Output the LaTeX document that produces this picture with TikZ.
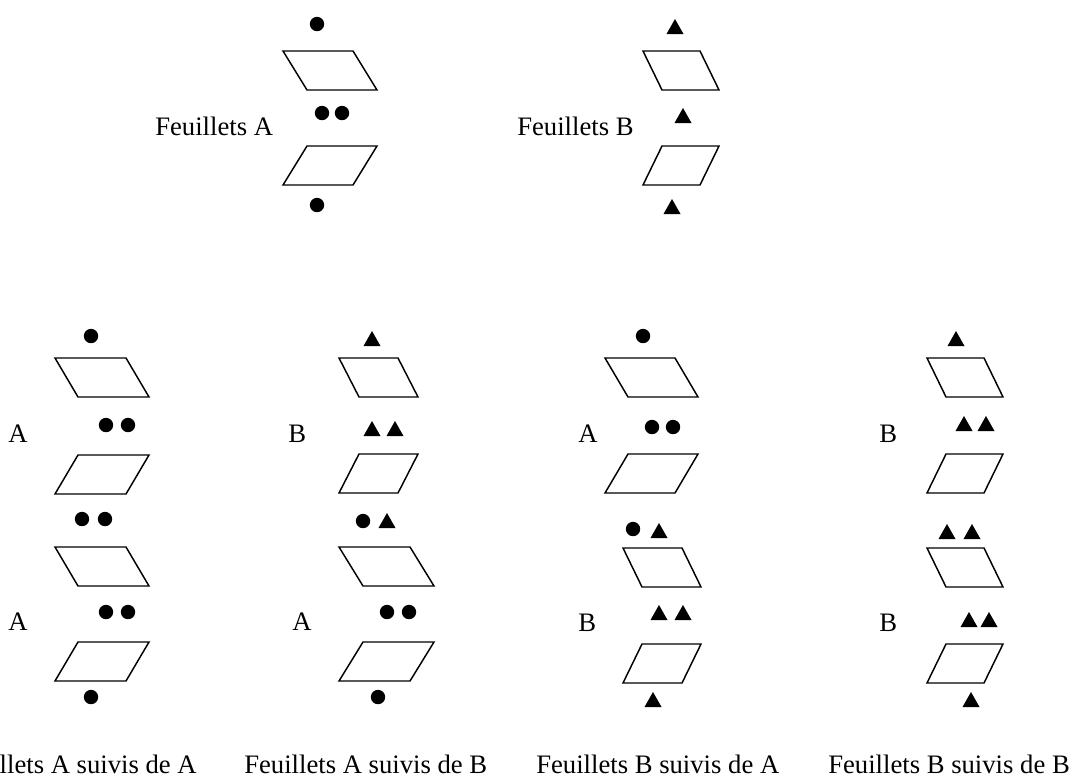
\documentclass[tikz,border=0pt]{standalone}
\usepackage{fontspec}
\setmainfont{Liberation Serif}
\usetikzlibrary{positioning}
\tikzset{
  sheet/.style={draw,line width=1.1pt,line join=miter},
  lbl/.style={inner sep=0pt,anchor=base west,font=\fontsize{20}{24}\selectfont},
  dot/.style={fill=black},
  pics/lsheet/.style 2 args={code={\draw[sheet] (0,0) -- (#1,0) -- (#1+#2,39) -- (#2,39) -- cycle;}},
  pics/rsheet/.style 2 args={code={\draw[sheet] (#2,0) -- (#1+#2,0) -- (#1,39) -- (0,39) -- cycle;}},
  pics/tri/.style={code={\fill (-8.5,0) -- (8.5,0) -- (0,-15) -- cycle;}}
}
\newcommand{\bead}[1]{\fill[dot] #1 circle (5.4pt)}
\begin{document}
\begin{tikzpicture}[x=0.75pt,y=-0.75pt]
  \useasboundingbox (0,0) rectangle (1078,776);

  % feuillets A
  \bead{(317,24)};
  \pic at (283,51) {lsheet={70}{24}};
  \bead{(322,113)}; \bead{(342,113)};
  \node[lbl] (fa) at (155,135) {Feuillets A};
  \pic at (283,146) {rsheet={70}{24}};
  \bead{(317,205)};

  % feuillets B
  \pic at (675,34) {tri};
  \pic at (643,51) {lsheet={57}{19}};
  \pic at (683,123) {tri};
  \node[lbl] (fb) at (517,135) {Feuillets B};
  \pic at (643,146) {rsheet={57}{19}};
  \pic at (672,214) {tri};

  % A suivis de A
  \bead{(91,336)};
  \pic at (55,358) {lsheet={71}{23}};
  \node[lbl] (aa1) at (8,442) {A};
  \bead{(106,425)}; \bead{(128,425)};
  \pic at (55,455) {rsheet={71}{23}};
  \bead{(82,519)}; \bead{(105,519)};
  \pic at (55,547) {lsheet={71}{23}};
  \node[lbl] (aa2) at (8,630) {A};
  \bead{(106,612)}; \bead{(128,612)};
  \pic at (55,642) {rsheet={71}{23}};
  \bead{(91,697)};
  \node[lbl] (capaa) at (-48,773) {Feuillets A suivis de A};

  % A suivis de B
  \pic at (372,346) {tri};
  \pic at (339,358) {lsheet={59}{20}};
  \node[lbl] (ab1) at (288,442) {B};
  \pic at (372,436) {tri}; \pic at (395,436) {tri};
  \pic at (339,454) {rsheet={59}{20}};
  \bead{(363,521)}; \pic at (387,528) {tri};
  \pic at (339,547) {lsheet={71}{24}};
  \node[lbl] (ab2) at (292,630) {A};
  \bead{(387,612)}; \bead{(409,612)};
  \pic at (339,642) {rsheet={71}{24}};
  \bead{(378,697)};
  \node[lbl] (capab) at (244,773) {Feuillets A suivis de B};

  % B suivis de A
  \bead{(643,336)};
  \pic at (605,358) {lsheet={70}{23}};
  \node[lbl] (ba1) at (578,442) {A};
  \bead{(652,427)}; \bead{(673,427)};
  \pic at (605,454) {rsheet={70}{23}};
  \bead{(633,529)}; \pic at (659,538) {tri};
  \pic at (623,548) {lsheet={59}{19}};
  \node[lbl] (ba2) at (578,631) {B};
  \pic at (659,620) {tri}; \pic at (683,620) {tri};
  \pic at (623,644) {rsheet={59}{19}};
  \pic at (653,707) {tri};
  \node[lbl] (capba) at (536,773) {Feuillets B suivis de A};

  % B suivis de B
  \pic at (956,346) {tri};
  \pic at (927,358) {lsheet={57}{19}};
  \node[lbl] (bb1) at (879,442) {B};
  \pic at (964,431) {tri}; \pic at (986,431) {tri};
  \pic at (927,454) {rsheet={57}{19}};
  \pic at (947,539) {tri}; \pic at (972,539) {tri};
  \pic at (927,548) {lsheet={57}{19}};
  \node[lbl] (bb2) at (879,631) {B};
  \pic at (969,627) {tri}; \pic at (989,627) {tri};
  \pic at (927,644) {rsheet={57}{19}};
  \pic at (971,707) {tri};
  \node[lbl] (capbb) at (828,773) {Feuillets B suivis de B};
\end{tikzpicture}
\end{document}
